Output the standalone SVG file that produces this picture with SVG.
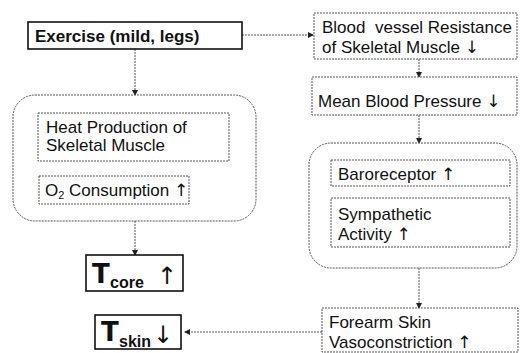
<svg xmlns="http://www.w3.org/2000/svg" width="520" height="353" viewBox="0 0 520 353">
<defs>
<marker id="ah" markerWidth="6" markerHeight="6" refX="5" refY="3" orient="auto" markerUnits="userSpaceOnUse">
<path d="M0,0 L6,3 L0,6 Z" fill="#222"/>
</marker>
</defs>
<style>
text{font-family:"Liberation Sans",Arial,sans-serif;font-size:17px;fill:#111;white-space:pre}
.b{font-weight:bold}
.a{font-family:"DejaVu Sans",sans-serif;font-weight:normal;fill:#111}
.dot{fill:#fff;stroke:#555;stroke-width:1;stroke-dasharray:2 1}
.solid{fill:#fff;stroke:#111;stroke-width:1.6}
.conn{fill:none;stroke:#555;stroke-width:1;stroke-dasharray:2 1;marker-end:url(#ah)}
.big{font-family:"DejaVu Sans",sans-serif;font-size:26px;font-weight:bold}
.sub{font-size:16px;font-weight:bold}
.arr{font-family:"DejaVu Sans",sans-serif;font-size:24px;font-weight:normal;fill:#111}
</style>
<rect width="520" height="353" fill="#fff"/>
<g id="connectors">
<path class="conn" d="M242,35 H313"/>
<path class="conn" d="M135,49 V95"/>
<path class="conn" d="M419,59 V77"/>
<path class="conn" d="M419,115 V143"/>
<path class="conn" d="M135,221 V255"/>
<path class="conn" d="M419,268 V308"/>
<path class="conn" d="M322,332 H185"/>
</g>
<g id="exercise">
<rect class="solid" x="28" y="22" width="214" height="27"/>
<text class="b" x="35" y="42" font-size="17.5">Exercise (mild, legs)</text>
</g>
<g id="blood-vessel">
<rect class="dot" x="314" y="13" width="203" height="46"/>
<text x="322" y="33">Blood  vessel Resistance</text>
<text x="322" y="53">of Skeletal Muscle <tspan class="a">↓</tspan></text>
</g>
<g id="mean-bp">
<rect class="dot" x="312" y="77" width="205" height="38"/>
<text x="318" y="107">Mean Blood Pressure <tspan class="a">↓</tspan></text>
</g>
<g id="left-group">
<rect class="dot" x="13" y="95" width="243" height="126" rx="22"/>
</g>
<g id="heat-production">
<rect class="dot" x="38" y="113" width="191" height="48"/>
<text x="46" y="133">Heat Production of</text>
<text x="46" y="151">Skeletal Muscle</text>
</g>
<g id="o2">
<rect class="dot" x="39" y="176" width="150" height="28"/>
<text x="45" y="196">O<tspan font-size="11" dy="3">2</tspan><tspan dy="-3"> Consumption </tspan><tspan class="a">↑</tspan></text>
</g>
<g id="right-group">
<rect class="dot" x="309" y="143" width="208" height="125" rx="22"/>
</g>
<g id="baroreceptor">
<rect class="dot" x="331" y="160" width="179" height="26"/>
<text x="338" y="180">Baroreceptor <tspan class="a">↑</tspan></text>
</g>
<g id="sympathetic">
<rect class="dot" x="331" y="198" width="179" height="49"/>
<text x="338" y="220">Sympathetic</text>
<text x="338" y="240">Activity <tspan class="a">↑</tspan></text>
</g>
<g id="tcore">
<rect class="solid" x="86" y="255" width="97" height="36"/>
<text class="big" x="92" y="283">T</text>
<text class="sub" x="110" y="288">core</text>
<text class="arr" x="157" y="284">↑</text>
</g>
<g id="tskin">
<rect class="solid" x="95" y="315" width="86" height="34"/>
<text class="big" x="101" y="341">T</text>
<text class="sub" x="119" y="347">skin</text>
<text class="arr" x="153" y="343">↓</text>
</g>
<g id="forearm">
<rect class="dot" x="322" y="308" width="196" height="44"/>
<text x="329" y="328">Forearm Skin</text>
<text x="329" y="348">Vasoconstriction <tspan class="a">↑</tspan></text>
</g>
</svg>
